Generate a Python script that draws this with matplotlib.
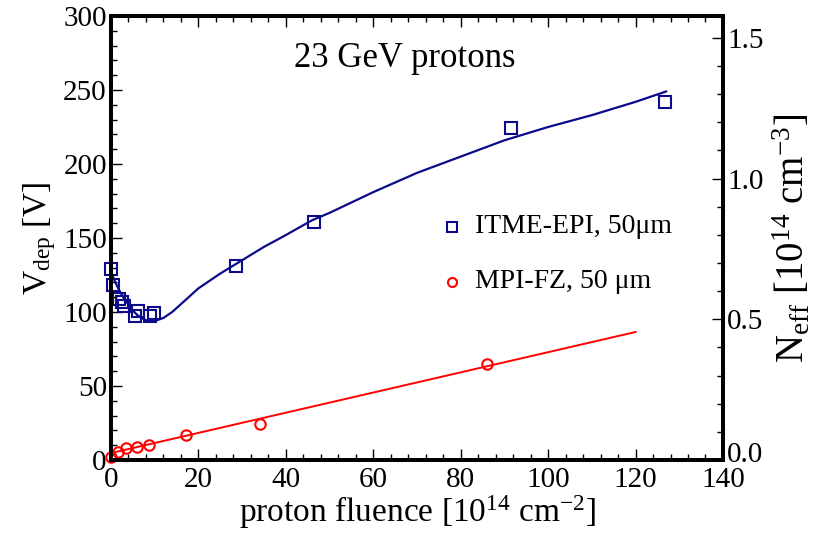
import numpy as np
import matplotlib
matplotlib.use("Agg")
import matplotlib.pyplot as plt
import matplotlib.transforms as mtransforms
from matplotlib.ticker import MultipleLocator, FormatStrFormatter

plt.rcParams['font.family'] = ['Liberation Serif', 'DejaVu Serif']
plt.rcParams['mathtext.fontset'] = 'custom'
plt.rcParams['mathtext.rm'] = 'Liberation Serif'
plt.rcParams['mathtext.it'] = 'Liberation Serif:italic'

# ITME-EPI 50 um data (fluence in 1e14 cm^-2, Vdep in V)
epi_fluence = [0, 0.5, 1.8, 2.5, 3.0, 5.5, 6.2, 8.9, 9.8, 28.6, 46.4, 91.5, 126.7]
epi_vdep = [129, 118, 109, 107, 104, 97, 101, 97, 99, 131, 161, 224, 242]

# fit curve for EPI
epi_fit_x = [0, 1, 2, 3, 4, 5, 6, 7, 8, 9, 10, 12, 14, 17, 20, 25, 30, 35, 40,
             46, 50, 60, 70, 80, 90, 100, 110, 120, 127]
epi_fit_y = [127, 120, 114, 109, 105, 101, 98, 96, 94.5, 94, 94, 96, 100, 108, 116,
             126, 135, 144, 152, 162, 167, 181, 194, 205, 216, 225, 233, 242, 249]

# MPI-FZ 50 um data
fz_fluence = [0, 1.7, 3.4, 6.0, 8.8, 17.1, 34.2, 86.0]
fz_vdep = [2.2, 5.6, 7.9, 9.0, 10.1, 16.9, 24.3, 65]

# linear fit for FZ
fz_fit_x = [0, 120]
fz_fit_y = [4.7, 86.5]

neff_ticks = [0.0, 0.5, 1.0, 1.5]
neff_labels = ['0.0', '0.5', '1.0', '1.5']

navy = '#0a0a8a'
red = '#ff0000'

fig = plt.figure(figsize=(8.29, 5.40), dpi=100)
ax = fig.add_axes([0.1339, 0.1481, 0.7382, 0.8223])

ax.plot(epi_fit_x, epi_fit_y, color=navy, lw=1.6)
ax.plot(epi_fluence, epi_vdep, ls='none', marker='s', ms=8.5, mfc='none',
        mec=navy, mew=1.5, clip_on=False)
ax.plot(fz_fit_x, fz_fit_y, color=red, lw=1.4)
ax.plot(fz_fluence, fz_vdep, ls='none', marker='o', ms=7.5, mfc='none',
        mec=red, mew=1.5, clip_on=False)

ax.set_xlim(0, 140)
ax.set_ylim(0, 300)
ax.xaxis.set_major_locator(MultipleLocator(20))
ax.xaxis.set_minor_locator(MultipleLocator(4))
ax.yaxis.set_major_locator(MultipleLocator(50))
ax.yaxis.set_minor_locator(MultipleLocator(10))
ax.tick_params(which='both', direction='in', top=True, right=False,
               labelsize=21, width=1.0, pad=3)
ax.tick_params(axis='x', pad=5)
ax.tick_params(which='major', length=8)
ax.tick_params(which='minor', length=4)
for s in ax.spines.values():
    s.set_linewidth(2.8)

ax.set_xlabel('proton fluence [10$^{14}$ cm$^{-2}$]', fontsize=24, labelpad=0)
ax.set_ylabel('V$_{\\mathrm{dep}}$ [V]', fontsize=24, labelpad=4)

ax.text(0.48, 0.905, '23 GeV protons', transform=ax.transAxes,
        ha='center', va='center', fontsize=25)

# legend entries
ax.plot([78.0], [157.5], ls='none', marker='s', ms=7, mfc='none', mec=navy, mew=1.5)
ax.text(83.3, 157.5, 'ITME-EPI, 50μm', fontsize=20, va='center')
ax.plot([78.0], [120.5], ls='none', marker='o', ms=6.5, mfc='none', mec=red, mew=1.5)
ax.text(83.3, 120.5, 'MPI-FZ, 50 μm', fontsize=20, va='center')

ax2 = ax.twinx()
ax2.set_ylim(0, 1.578)
ax2.set_yticks(neff_ticks)
ax2.set_yticklabels(neff_labels)
ax2.yaxis.set_minor_locator(MultipleLocator(0.1))
ax2.tick_params(which='both', direction='in', labelsize=21, width=1.0, pad=3)
ax2.tick_params(which='major', length=8)
ax2.tick_params(which='minor', length=4)
for s in ax2.spines.values():
    s.set_linewidth(2.8)
ax2.set_ylabel('N$_{\\mathrm{eff}}$ [10$^{14}$ cm$^{-3}$]', fontsize=28, labelpad=6)

# lift the 0.0 label a little so it clears the 140 label
t0 = ax2.yaxis.get_major_ticks()[0]
t0.label2.set_transform(t0.label2.get_transform() +
                        mtransforms.ScaledTranslation(0, 6 / 72, fig.dpi_scale_trans))

fig.savefig('out.png', dpi=100)
